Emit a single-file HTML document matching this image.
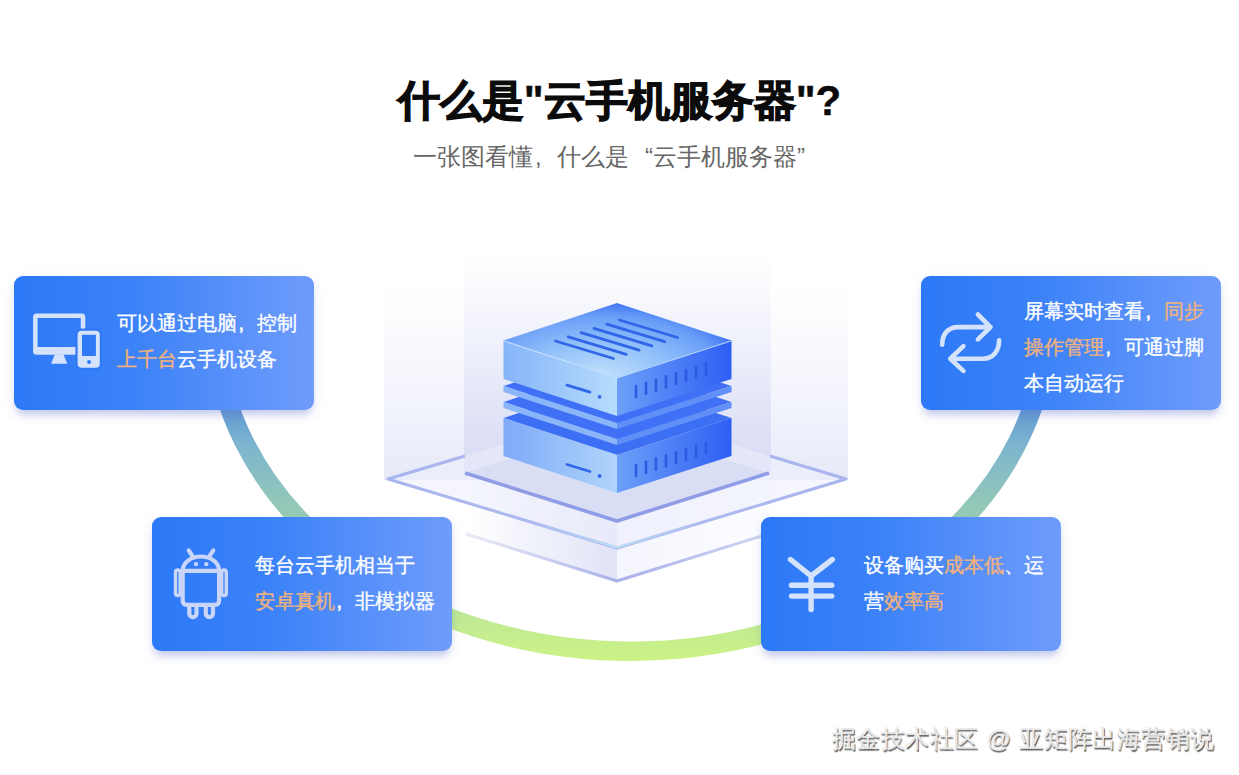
<!DOCTYPE html>
<html><head><meta charset="utf-8">
<style>
html,body{margin:0;padding:0;background:#fff;width:1239px;height:775px;overflow:hidden;}
body{position:relative;font-family:"Liberation Sans",sans-serif;}
.abs{position:absolute;}
#title{position:absolute;left:0;top:76px;width:1239px;text-align:center;font-size:42px;font-weight:900;color:#0b0b0b;line-height:50px;white-space:nowrap;-webkit-text-stroke:1.3px #0b0b0b;}
#sub{position:absolute;left:413px;top:142px;width:420px;text-align:left;font-size:24px;color:#666;line-height:30px;white-space:nowrap;}
.pq{display:inline-block;width:24px;}
.tp{-webkit-text-stroke:0.4px #0b0b0b;}
svg.layer{position:absolute;left:0;top:0;width:1239px;height:775px;}
.card{position:absolute;width:300px;height:134px;border-radius:9px;
 background:linear-gradient(90deg,#2c79f7 0%,#3c82f8 40%,#6f9cfb 100%);
 box-shadow:0 7px 9px -3px rgba(95,110,200,0.36),0 3px 14px rgba(110,130,220,0.10);}
.txt{position:absolute;left:102.5px;color:#fff;font-size:20px;line-height:36px;white-space:nowrap;font-weight:500;-webkit-text-stroke:0.35px currentColor;}
.o{color:#f0b27a;}
.cm{display:inline-block;width:20px;text-indent:2px;-webkit-text-stroke:0.6px currentColor;}
.card svg{position:absolute;left:0;top:0;}
#wm{position:absolute;left:832px;top:722.5px;font-size:24px;letter-spacing:0.4px;word-spacing:1px;line-height:32px;color:#ececec;white-space:nowrap;-webkit-text-stroke:0.45px #e8e8e8;
 text-shadow:1px 1.5px 1px rgba(0,0,0,0.55),0.5px 0.5px 0.5px rgba(0,0,0,0.35);}
</style></head><body>
<div id="title">什么是<span class="tp">"</span>云手机服务器<span class="tp">"?</span></div>
<div id="sub">一张图看懂<span class="pq" style="text-align:left;text-indent:2px">,</span>什么是<span class="pq" style="text-align:right">“</span>云手机服务器<span class="pq" style="text-align:left">”</span></div>

<svg class="layer" viewBox="0 0 1239 775">
 <defs>
  <linearGradient id="arcg" x1="0" y1="400" x2="0" y2="662" gradientUnits="userSpaceOnUse">
   <stop offset="0" stop-color="#5a93d6"/>
   <stop offset="0.17" stop-color="#7db5cf"/>
   <stop offset="0.44" stop-color="#97cbb3"/>
   <stop offset="0.76" stop-color="#b9e59a"/>
   <stop offset="1" stop-color="#cdf385"/>
  </linearGradient>
 <clipPath id="arcclip"><rect x="0" y="395" width="1239" height="380"/></clipPath>
 </defs>
 <ellipse clip-path="url(#arcclip)" cx="631" cy="317.7" rx="416.8" ry="333.5" fill="none" stroke="url(#arcg)" stroke-width="19.5"/>
</svg>

<svg class="layer" viewBox="0 0 1239 775">
 <defs>
  <linearGradient id="panO" x1="0" y1="284" x2="0" y2="480" gradientUnits="userSpaceOnUse">
   <stop offset="0" stop-color="#e8eaf9" stop-opacity="0"/>
   <stop offset="1" stop-color="#dfe2f7" stop-opacity="0.75"/>
  </linearGradient>
  <linearGradient id="panI" x1="0" y1="250" x2="0" y2="475" gradientUnits="userSpaceOnUse">
   <stop offset="0" stop-color="#dfe2f7" stop-opacity="0"/>
   <stop offset="1" stop-color="#d3d7f3" stop-opacity="0.8"/>
  </linearGradient>
  <linearGradient id="topF" x1="660" y1="305" x2="595" y2="378" gradientUnits="userSpaceOnUse">
   <stop offset="0" stop-color="#3f71f5"/>
   <stop offset="0.5" stop-color="#76a8f8"/>
   <stop offset="1" stop-color="#c2e2fc"/>
  </linearGradient>
  <radialGradient id="topR" gradientUnits="userSpaceOnUse" cx="600" cy="378" r="155" gradientTransform="translate(600 378) scale(1 0.5) translate(-600 -378)">
   <stop offset="0" stop-color="#c4e3fc"/>
   <stop offset="0.5" stop-color="#8dbdf9"/>
   <stop offset="0.8" stop-color="#6a9ff8"/>
   <stop offset="1" stop-color="#3d70f5"/>
  </radialGradient>
  <linearGradient id="leftF" x1="503" y1="0" x2="617" y2="0" gradientUnits="userSpaceOnUse">
   <stop offset="0" stop-color="#86b4f9"/>
   <stop offset="1" stop-color="#b6dcfc"/>
  </linearGradient>
  <linearGradient id="rightF" x1="617" y1="0" x2="732" y2="0" gradientUnits="userSpaceOnUse">
   <stop offset="0" stop-color="#6d9ff8"/>
   <stop offset="1" stop-color="#2d5ef4"/>
  </linearGradient>
  <linearGradient id="leftF2" x1="503" y1="0" x2="617" y2="0" gradientUnits="userSpaceOnUse">
   <stop offset="0" stop-color="#7eaaf8"/>
   <stop offset="1" stop-color="#b0d4fb"/>
  </linearGradient>
  <linearGradient id="wallL" x1="465" y1="0" x2="617" y2="0" gradientUnits="userSpaceOnUse">
   <stop offset="0" stop-color="#eef0fb" stop-opacity="0"/>
   <stop offset="0.45" stop-color="#eaecf9" stop-opacity="0.7"/>
   <stop offset="1" stop-color="#e0e3f6"/>
  </linearGradient>
  <linearGradient id="wallR" x1="617" y1="0" x2="769" y2="0" gradientUnits="userSpaceOnUse">
   <stop offset="0" stop-color="#f4f5fd"/>
   <stop offset="1" stop-color="#fafbff" stop-opacity="0.6"/>
  </linearGradient>
  <linearGradient id="line3" x1="466" y1="0" x2="768" y2="0" gradientUnits="userSpaceOnUse">
   <stop offset="0" stop-color="#d3d6ec" stop-opacity="0.5"/>
   <stop offset="0.5" stop-color="#a7b0ea"/>
   <stop offset="1" stop-color="#c5cbee" stop-opacity="0.8"/>
  </linearGradient>
  <linearGradient id="cyanL" x1="388" y1="0" x2="846" y2="0" gradientUnits="userSpaceOnUse">
   <stop offset="0" stop-color="#c3e8f6" stop-opacity="0"/>
   <stop offset="0.32" stop-color="#c3e8f6" stop-opacity="0.15"/>
   <stop offset="0.5" stop-color="#bfe6f6" stop-opacity="1"/>
   <stop offset="0.68" stop-color="#c3e8f6" stop-opacity="0.15"/>
   <stop offset="1" stop-color="#c3e8f6" stop-opacity="0"/>
  </linearGradient>
 </defs>
 <!-- back glass panels -->
 <rect x="384" y="284" width="464" height="196" fill="url(#panO)"/>
 <rect x="464" y="245" width="307" height="230" fill="url(#panI)"/>
 <!-- inner box lower walls -->
 <polygon points="465,473 617,521 617,581 466,534" fill="url(#wallL)"/>
 <polygon points="617,521 769,473 768,534 617,581" fill="url(#wallR)"/>
 <polyline points="466,534 617,581 768,534" fill="none" stroke="url(#line3)" stroke-width="3" stroke-linejoin="round"/>
 <!-- outer plate -->
 <polygon points="388,479 617,410 846,479 617,548" fill="#eceefb" opacity="0.6"/>
 <polyline points="465,456 388,479 617,548 846,479 770,456" fill="none" stroke="#a9b5ee" stroke-width="3" stroke-linejoin="round"/>
 <polyline points="398,482 617,547.5 836,482" fill="none" stroke="url(#cyanL)" stroke-width="1.8"/>
 <!-- inner top floor -->
 <polygon points="465,473 617,425 769,473 617,521" fill="#dadef5"/>
 <polyline points="465,473 617,521 769,473" fill="none" stroke="#8f9de7" stroke-width="3.6" stroke-linejoin="round"/>

 <!-- bottom block B2 -->
 <polygon points="503.5,418 617,381 731.5,418 617,455" fill="#3d6ff5"/>
 <polygon points="503.5,418 617,455 617,493 503.5,456" fill="url(#leftF2)"/>
 <polygon points="617,455 731.5,418 731.5,456 617,493" fill="url(#rightF)"/>
 <!-- plate 2 -->
 <polygon points="503.5,402 617,365 731.5,402 617,439" fill="#3f70f5"/>
 <polygon points="503.5,402 617,439 617,445 503.5,408" fill="#8ab6f9"/>
 <polygon points="617,439 731.5,402 731.5,408 617,445" fill="#5f8ff7"/>
 <!-- plate 1 -->
 <polygon points="503.5,386 617,349 731.5,386 617,423" fill="#3f70f5"/>
 <polygon points="503.5,386 617,423 617,429 503.5,392" fill="#8ab6f9"/>
 <polygon points="617,423 731.5,386 731.5,392 617,429" fill="#5f8ff7"/>
 <!-- top block B1 -->
 <polygon points="503.5,340.5 617,303 731.5,340.5 617,378" fill="url(#topR)"/>
 <polygon points="503.5,340.5 617,378 617,416 503.5,379" fill="url(#leftF)"/>
 <polygon points="617,378 731.5,340.5 731.5,379 617,416" fill="url(#rightF)"/>
 <polyline points="504,341 617,378 731,341" fill="none" stroke="#cfe8fd" stroke-width="1.1" opacity="0.75"/>
 <g stroke="#3166e8" stroke-width="2.8" stroke-linecap="round">
  <line x1="555.5" y1="341" x2="613.5" y2="358.5"/>
  <line x1="568.3" y1="336.8" x2="626.3" y2="354.3"/>
  <line x1="581.1" y1="332.6" x2="639.1" y2="350.1"/>
  <line x1="593.9" y1="328.4" x2="651.9" y2="345.9"/>
  <line x1="606.7" y1="324.2" x2="664.7" y2="341.7"/>
  <line x1="619.5" y1="320" x2="677.5" y2="337.5"/>
  <line x1="567" y1="385.2" x2="590" y2="392.2"/>
  <line x1="567" y1="464.5" x2="590" y2="471.5"/>
 </g>
 <circle cx="599.6" cy="396.8" r="1.9" fill="#3164e8"/>
 <circle cx="599.6" cy="476" r="1.9" fill="#3164e8"/>
 <g stroke="#2c5be0" stroke-width="2.6" stroke-linecap="round">
  <line x1="636" y1="386" x2="636" y2="397"/>
  <line x1="646" y1="382.8" x2="646" y2="393.8"/>
  <line x1="656" y1="379.6" x2="656" y2="390.6"/>
  <line x1="666" y1="376.4" x2="666" y2="387.4"/>
  <line x1="676" y1="373.2" x2="676" y2="384.2"/>
  <line x1="686" y1="370" x2="686" y2="381"/>
  <line x1="696" y1="366.8" x2="696" y2="377.8"/>
  <line x1="706" y1="363.6" x2="706" y2="374.6"/>
 </g>
 <g stroke="#2c5be0" stroke-width="2.6" stroke-linecap="round">
  <line x1="636" y1="465" x2="636" y2="476"/>
  <line x1="646" y1="461.8" x2="646" y2="472.8"/>
  <line x1="656" y1="458.6" x2="656" y2="469.6"/>
  <line x1="666" y1="455.4" x2="666" y2="466.4"/>
  <line x1="676" y1="452.2" x2="676" y2="463.2"/>
  <line x1="686" y1="449" x2="686" y2="460"/>
  <line x1="696" y1="445.8" x2="696" y2="456.8"/>
  <line x1="706" y1="442.6" x2="706" y2="453.6"/>
 </g>
</svg>

<div id="cards">
 <div class="card" style="left:14px;top:275.5px;">
  <div class="txt" style="top:29px;">可以通过电脑<span class="cm">,</span>控制<br><span class="o">上千台</span>云手机设备</div>
 </div>
 <div class="card" style="left:921px;top:275.5px;">
  <div class="txt" style="top:17.5px;">屏幕实时查看<span class="cm">,</span><span class="o">同步</span><br><span class="o">操作管理</span><span class="cm">,</span>可通过脚<br>本自动运行</div>
 </div>
 <div class="card" style="left:152px;top:517px;">
  <div class="txt" style="top:29.5px;">每台云手机相当于<br><span class="o">安卓真机</span><span class="cm">,</span>非模拟器</div>
 </div>
 <div class="card" style="left:761px;top:517px;">
  <div class="txt" style="top:29.5px;">设备购买<span class="o">成本低</span>、运<br>营<span class="o">效率高</span></div>
 </div>
</div>

<svg class="layer" viewBox="0 0 1239 775">
 <!-- monitor + phone -->
 <g fill="#d5e2fb">
  <path fill-rule="evenodd" d="M36.5,313.6 H81.8 Q85.3,313.6 85.3,317.1 V351.3 Q85.3,354.8 81.8,354.8 H36.5 Q33.1,354.8 33.1,351.3 V317.1 Q33.1,313.6 36.5,313.6 Z M37.6,318.1 V347 H80.8 V318.1 Z"/>
  <polygon points="54.8,354.5 63.4,354.5 67.4,363.7 51,363.7"/>
  <rect x="75.4" y="328.5" width="26.6" height="41.5" rx="5.5" fill="#2f79f6"/>
  <path fill-rule="evenodd" d="M81.6,330.7 H95.8 Q99.8,330.7 99.8,334.7 V363.8 Q99.8,367.8 95.8,367.8 H81.6 Q77.6,367.8 77.6,363.8 V334.7 Q77.6,330.7 81.6,330.7 Z M82,334.8 V356 H95.9 V334.8 Z"/>
 </g>
 <circle cx="89.1" cy="361.9" r="2" fill="#2f79f6"/>
 <!-- sync -->
 <g fill="none" stroke="#d5e2fb" stroke-width="4.6" stroke-linecap="round" stroke-linejoin="round">
  <path d="M942.2,344.7 C942.2,334 948,327.1 958,327.1 L990.5,327.1 M977.9,314.5 L990.5,327.1 L977.9,339.3"/>
  <path d="M999.1,340.2 C999.1,351 993,358.7 983,358.7 L950.3,358.7 M963.4,346.1 L950.3,358.7 L963.4,370.9"/>
 </g>
 <!-- android -->
 <g fill="none" stroke="#c9d5f9" stroke-width="4.2" stroke-linecap="round" stroke-linejoin="round">
  <path d="M182.7,570.5 A18.2,14 0 0 1 219.1,570.5"/>
  <line x1="188.7" y1="550.4" x2="192.2" y2="555.6"/>
  <line x1="213.3" y1="550.4" x2="209.8" y2="555.6"/>
  <path d="M182.7,570.8 H219.1 V600.5 Q219.1,604.8 214.8,604.8 H187 Q182.7,604.8 182.7,600.5 Z"/>
  <rect x="175.5" y="570" width="4.6" height="25.5" rx="2.3" stroke-width="3.4"/>
  <rect x="221.7" y="570" width="4.6" height="25.5" rx="2.3" stroke-width="3.4"/>
  <path d="M189.3,606.5 V613.5 A3.6,3.6 0 0 0 196.5,613.5 V606.5 M205.8,606.5 V613.5 A3.6,3.6 0 0 0 213,613.5 V606.5"/>
 </g>
 <circle cx="196" cy="564.1" r="2.2" fill="#c9d5f9"/>
 <circle cx="206.3" cy="564.1" r="2.2" fill="#c9d5f9"/>
 <!-- yen -->
 <g fill="none" stroke="#d5e2fb" stroke-width="5.4" stroke-linecap="round" stroke-linejoin="round">
  <path d="M790.5,559.5 L811.1,576 L832.3,559.5 M811.1,576 V609.5 M791.5,585.3 H831.8 M791.5,596.1 H831.8"/>
 </g>
</svg>

<div id="wm">掘金技术社区 @ 亚矩阵出海营销说</div>
</body></html>
